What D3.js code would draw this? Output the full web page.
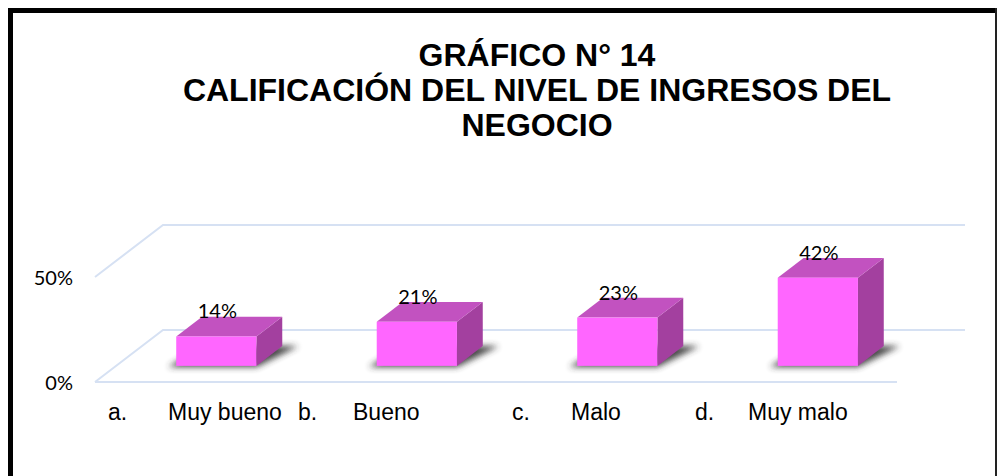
<!DOCTYPE html>
<html>
<head>
<meta charset="utf-8">
<script src="https://cdn.jsdelivr.net/npm/d3@7/dist/d3.min.js"></script>
<style>
	html, body { margin: 0; padding: 0; background: #fff; }
	svg { display: block; }
</style>
</head>
<body>
<svg id="chart" width="1001" height="476"></svg>
<script>

// Data.
var letters = [ 'a.', 'b.', 'c.', 'd.' ];
var categories = [ 'Muy bueno', 'Bueno', 'Malo', 'Muy malo' ];
var values = [ 0.14, 0.21, 0.23, 0.42 ];
var valueLabels = [ '14%', '21%', '23%', '42%' ];
var ticks = [ 0, 0.5 ];
var tickLabels = [ '0%', '50%' ];
var titleLines = [ 'GRÁFICO N° 14', 'CALIFICACIÓN DEL NIVEL DE INGRESOS DEL', 'NEGOCIO' ];

// Layout (not data): tab-stop look of the category labels.
var letterDx = [ 13, 2.5, 16, -1.5 ];
var nameDx = [ 60, 55, 59, 53 ];

var svg = d3.select( '#chart' );

// 3D floor depth and the slice of it the bars sit in.
var depth = { dx: 68, dy: -52 };
var zFront = 0.31, zBack = 0.69;

var x = d3.scaleBand()
	.domain( categories )
	.range( [ 95, 897 ] )
	.paddingInner( 0.6 )
	.paddingOuter( 0.3 );

var y = d3.scaleLinear()
	.domain( [ 0, 0.5 ] )
	.range( [ 382, 277 ] );

// Frame.
svg.append( 'path' )
	.attr( 'd', 'M10.5,476 L10.5,10.5 L996,10.5' )
	.attr( 'fill', 'none' )
	.attr( 'stroke', '#000' )
	.attr( 'stroke-width', 5 );
svg.append( 'line' )
	.attr( 'x1', 996 ).attr( 'x2', 996 )
	.attr( 'y1', 8 ).attr( 'y2', 476 )
	.attr( 'stroke', '#222' )
	.attr( 'stroke-width', 2 );

// Title.
svg.append( 'g' )
	.selectAll( 'text' )
	.data( titleLines )
	.enter()
	.append( 'text' )
	.attr( 'x', 537 )
	.attr( 'y', function ( d, i ) { return 66 + i * 35; } )
	.attr( 'text-anchor', 'middle' )
	.style( 'font-family', '"Liberation Sans", Arial, sans-serif' )
	.style( 'font-weight', 'bold' )
	.style( 'font-size', '32px' )
	.text( function ( d ) { return d; } );

// Gridlines on the floor / back wall.
var x0 = x.range()[0], x1 = x.range()[1];
var grid = svg.append( 'g' )
	.attr( 'fill', 'none' )
	.attr( 'stroke', '#d6e1f3' )
	.attr( 'stroke-width', 2 );

grid.selectAll( 'path' )
	.data( ticks )
	.enter()
	.append( 'path' )
	.attr( 'd', function ( t ) {
		var yy = y( t );
		return 'M' + x0 + ',' + yy +
			'L' + ( x0 + depth.dx ) + ',' + ( yy + depth.dy ) +
			'L' + ( x1 + depth.dx ) + ',' + ( yy + depth.dy );
	} );

grid.append( 'line' )
	.attr( 'x1', x0 ).attr( 'x2', x1 )
	.attr( 'y1', y( 0 ) ).attr( 'y2', y( 0 ) );

// Tick labels.
svg.append( 'g' )
	.selectAll( 'text' )
	.data( ticks )
	.enter()
	.append( 'text' )
	.attr( 'x', 73 )
	.attr( 'y', function ( t ) { return y( t ) + 8; } )
	.attr( 'text-anchor', 'end' )
	.style( 'font-family', 'Lato, "Open Sans", sans-serif' )
	.style( 'font-size', '20px' )
	.text( function ( t, i ) { return tickLabels[i]; } );

// Shadow blur.
var defs = svg.append( 'defs' );
defs.append( 'filter' )
	.attr( 'id', 'shadow' )
	.attr( 'x', '-30%' ).attr( 'y', '-60%' )
	.attr( 'width', '160%' ).attr( 'height', '220%' )
	.append( 'feGaussianBlur' )
	.attr( 'stdDeviation', 3 );

var bw = x.bandwidth();
var fdx = depth.dx * zFront, fdy = depth.dy * zFront;
var bdx = depth.dx * ( zBack - zFront ), bdy = depth.dy * ( zBack - zFront );

var bars = svg.append( 'g' )
	.selectAll( 'g.bar' )
	.data( categories )
	.enter()
	.append( 'g' )
	.classed( 'bar', true );

function pts( arr ) {
	return arr.map( function ( p ) { return p[0] + ',' + p[1]; } ).join( ' ' );
}

// Shadow on the floor.
bars.append( 'polygon' )
	.attr( 'filter', 'url(#shadow)' )
	.attr( 'fill', '#333' )
	.attr( 'opacity', 0.9 )
	.attr( 'points', function ( d ) {
		var left = x( d ) + fdx, base = y( 0 ) + fdy;
		return pts( [
			[ left - 8, base + 1 ],
			[ left + bw, base + 1 ],
			[ left + bw + bdx + 16, base + bdy ],
			[ left + bdx, base + bdy ]
		] );
	} );

// Side face.
bars.append( 'polygon' )
	.attr( 'fill', '#a3409f' )
	.attr( 'points', function ( d, i ) {
		var left = x( d ) + fdx, base = y( 0 ) + fdy, top = y( values[i] ) + fdy;
		return pts( [
			[ left + bw, top ],
			[ left + bw, base ],
			[ left + bw + bdx, base + bdy ],
			[ left + bw + bdx, top + bdy ]
		] );
	} );

// Top face.
bars.append( 'polygon' )
	.attr( 'fill', '#c252c0' )
	.attr( 'points', function ( d, i ) {
		var left = x( d ) + fdx, top = y( values[i] ) + fdy;
		return pts( [
			[ left, top ],
			[ left + bw, top ],
			[ left + bw + bdx, top + bdy ],
			[ left + bdx, top + bdy ]
		] );
	} );

// Front face.
bars.append( 'rect' )
	.attr( 'fill', '#ff66ff' )
	.attr( 'x', function ( d ) { return x( d ) + fdx; } )
	.attr( 'y', function ( d, i ) { return y( values[i] ) + fdy; } )
	.attr( 'width', bw )
	.attr( 'height', function ( d, i ) { return y( 0 ) - y( values[i] ); } );

// Value labels.
bars.append( 'text' )
	.attr( 'x', function ( d ) { return x( d ) + fdx + bw / 2 + 1; } )
	.attr( 'y', function ( d, i ) { return y( values[i] ) + fdy - 18; } )
	.attr( 'text-anchor', 'middle' )
	.style( 'font-family', 'Lato, "Open Sans", sans-serif' )
	.style( 'font-size', '20px' )
	.text( function ( d, i ) { return valueLabels[i]; } );

// Category labels.
var cats = svg.append( 'g' )
	.style( 'font-family', '"Liberation Sans", Arial, sans-serif' )
	.style( 'font-size', '23px' )
	.selectAll( 'g' )
	.data( categories )
	.enter()
	.append( 'g' );

var bandStart = function ( d ) { return x( d ) - x.step() * x.paddingInner() / 2; };

cats.append( 'text' )
	.attr( 'x', function ( d, i ) { return bandStart( d ) + letterDx[i]; } )
	.attr( 'y', 420 )
	.text( function ( d, i ) { return letters[i]; } );

cats.append( 'text' )
	.attr( 'x', function ( d, i ) { return bandStart( d ) + letterDx[i] + nameDx[i]; } )
	.attr( 'y', 420 )
	.text( function ( d ) { return d; } );

</script>
</body>
</html>
